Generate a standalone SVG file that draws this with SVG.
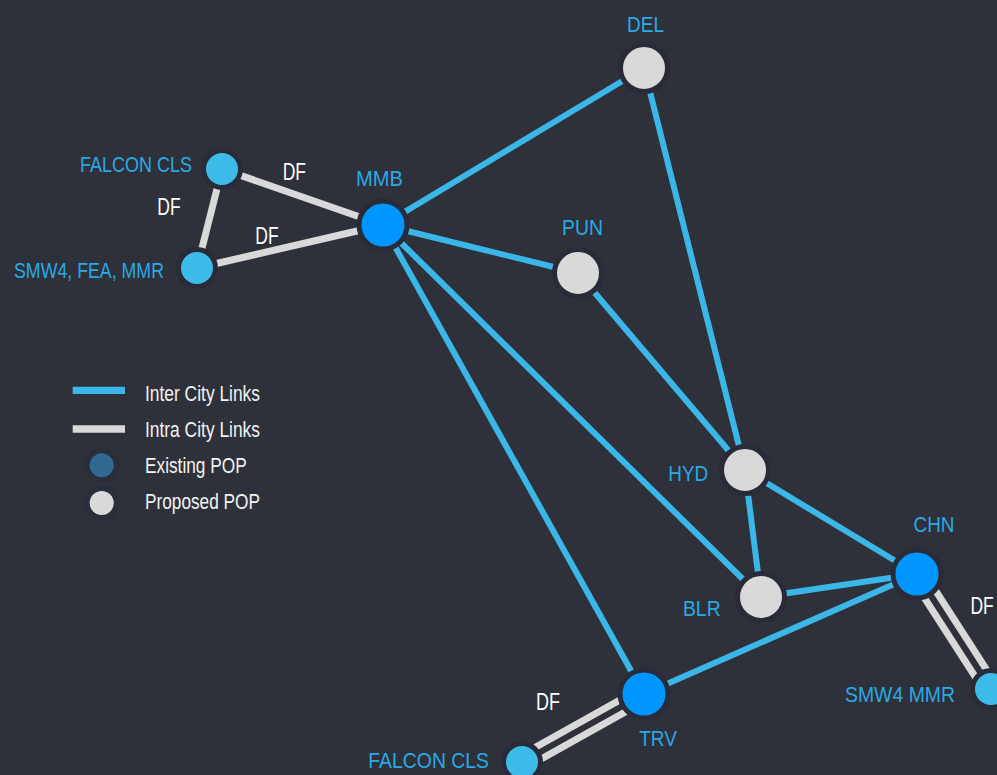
<svg xmlns="http://www.w3.org/2000/svg" width="997" height="775" viewBox="0 0 997 775">
<defs>
<style>
.bg{fill:#2e3139}
.inter{stroke:#3ab7e8;stroke-width:6;stroke-linecap:butt;fill:none}
.intra{stroke:#d9d9d9;stroke-width:7;stroke-linecap:butt;fill:none}
.ring{stroke:#292c38;stroke-width:5}
.exist{fill:#0096ff}
.prop{fill:#d9d9d9}
.small{fill:#3dbbe8}
.lbl{font-family:"Liberation Sans",Arial,sans-serif;font-size:22.5px;fill:#2aa9e6}
.df{font-family:"Liberation Sans",Arial,sans-serif;font-size:23px;fill:#ffffff}
.leg{font-family:"Liberation Sans",Arial,sans-serif;font-size:22px;fill:#f2f2f2}
</style>
</defs>
<rect class="bg" x="0" y="0" width="997" height="775"/>
<g id="connectors">
<line class="inter" x1="383" y1="225" x2="644" y2="68"/>
<line class="inter" x1="383" y1="225" x2="578" y2="273"/>
<line class="inter" x1="383" y1="225" x2="761" y2="597"/>
<line class="inter" x1="383" y1="225" x2="644" y2="694"/>
<line class="inter" x1="644" y1="68" x2="745" y2="470"/>
<line class="inter" x1="578" y1="273" x2="745" y2="470"/>
<line class="inter" x1="745" y1="470" x2="761" y2="597"/>
<line class="inter" x1="745" y1="470" x2="917" y2="574"/>
<line class="inter" x1="761" y1="597" x2="917" y2="574"/>
<line class="inter" x1="917" y1="574" x2="644" y2="694"/>
<line class="intra" x1="222" y1="169" x2="383" y2="225"/>
<line class="intra" x1="222" y1="169" x2="197" y2="268"/>
<line class="intra" x1="197" y1="268" x2="383" y2="225"/>
<line class="intra" x1="911.4" y1="577.6" x2="985.4" y2="692.6"/>
<line class="intra" x1="922.6" y1="570.4" x2="996.6" y2="685.4"/>
<line class="intra" x1="640.9" y1="688.3" x2="519.4" y2="756.3"/>
<line class="intra" x1="647.1" y1="699.7" x2="525.6" y2="767.7"/>
</g>
<g id="node-DEL"><circle class="prop ring" cx="644" cy="68" r="23.5"/><text class="lbl" x="645.5" y="31.5" text-anchor="middle" textLength="37" lengthAdjust="spacingAndGlyphs">DEL</text></g>
<g id="node-MMB"><circle class="exist ring" cx="383" cy="225" r="24"/><text class="lbl" x="379.5" y="186" text-anchor="middle" textLength="47" lengthAdjust="spacingAndGlyphs">MMB</text></g>
<g id="node-PUN"><circle class="prop ring" cx="578" cy="273" r="23.5"/><text class="lbl" x="582.5" y="234.5" text-anchor="middle" textLength="41" lengthAdjust="spacingAndGlyphs">PUN</text></g>
<g id="node-HYD"><circle class="prop ring" cx="745" cy="470" r="23.5"/><text class="lbl" x="688.3" y="480.7" text-anchor="middle" textLength="40" lengthAdjust="spacingAndGlyphs">HYD</text></g>
<g id="node-BLR"><circle class="prop ring" cx="761" cy="597" r="23.5"/><text class="lbl" x="701.8" y="616" text-anchor="middle" textLength="37.7" lengthAdjust="spacingAndGlyphs">BLR</text></g>
<g id="node-CHN"><circle class="exist ring" cx="917" cy="574" r="24"/><text class="lbl" x="934" y="531.7" text-anchor="middle" textLength="41" lengthAdjust="spacingAndGlyphs">CHN</text></g>
<g id="node-TRV"><circle class="exist ring" cx="644" cy="694" r="24"/><text class="lbl" x="658" y="746" text-anchor="middle" textLength="37.7" lengthAdjust="spacingAndGlyphs">TRV</text></g>
<g id="node-FALCON-CLS-MMB"><circle class="small ring" cx="222" cy="169" r="18.5" stroke-width="4"/><text class="lbl" x="80" y="172.3" textLength="112" lengthAdjust="spacingAndGlyphs">FALCON CLS</text></g>
<g id="node-SMW4-FEA-MMR"><circle class="small ring" cx="197" cy="268" r="18.5" stroke-width="4"/><text class="lbl" x="14" y="277.7" textLength="150" lengthAdjust="spacingAndGlyphs">SMW4, FEA, MMR</text></g>
<g id="node-FALCON-CLS-TRV"><circle class="small ring" cx="522" cy="762" r="18.5" stroke-width="4"/><text class="lbl" x="368.3" y="768.3" textLength="120.7" lengthAdjust="spacingAndGlyphs">FALCON CLS</text></g>
<g id="node-SMW4-MMR"><circle class="small ring" cx="991" cy="689" r="18.5" stroke-width="4"/><text class="lbl" x="845" y="701.5" textLength="110" lengthAdjust="spacingAndGlyphs">SMW4 MMR</text></g>
<g id="df-labels">
<text class="df" x="282.7" y="180" textLength="23.3" lengthAdjust="spacingAndGlyphs">DF</text>
<text class="df" x="157.3" y="215" textLength="23.3" lengthAdjust="spacingAndGlyphs">DF</text>
<text class="df" x="255.3" y="244" textLength="23.3" lengthAdjust="spacingAndGlyphs">DF</text>
<text class="df" x="970.5" y="614" textLength="23.3" lengthAdjust="spacingAndGlyphs">DF</text>
<text class="df" x="536" y="710" textLength="24" lengthAdjust="spacingAndGlyphs">DF</text>
</g>
<g id="legend">
<line x1="72.7" y1="390.3" x2="125" y2="390.3" stroke="#3ab7e8" stroke-width="7.3"/>
<line x1="72.7" y1="429" x2="125" y2="429" stroke="#d9d9d9" stroke-width="7.7"/>
<circle cx="101.7" cy="465.3" r="14.8" fill="#2f6890" stroke="#2a2d3a" stroke-width="5.5"/>
<circle cx="101.7" cy="503" r="14.8" fill="#d9d9d9" stroke="#2a2d3a" stroke-width="5.5"/>
<text class="leg" x="145" y="400.7" textLength="115" lengthAdjust="spacingAndGlyphs">Inter City Links</text>
<text class="leg" x="145" y="436.7" textLength="115" lengthAdjust="spacingAndGlyphs">Intra City Links</text>
<text class="leg" x="145" y="472.5" textLength="101.7" lengthAdjust="spacingAndGlyphs">Existing POP</text>
<text class="leg" x="145" y="508.5" textLength="115" lengthAdjust="spacingAndGlyphs">Proposed POP</text>
</g>
</svg>
